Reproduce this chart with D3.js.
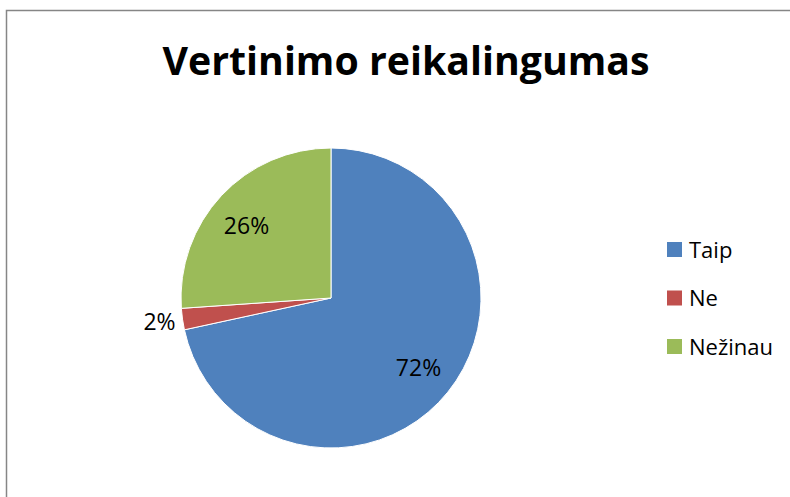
<!DOCTYPE html>
<html><head><meta charset="utf-8">
<script src="https://cdn.jsdelivr.net/npm/d3@7"></script>
<style>body{margin:0;background:#fff}svg{display:block}</style>
</head><body>
<script>
const categories = ["Taip", "Ne", "Nežinau"];
const values = [71.6, 2.3, 26.1];
const labels = ["72%", "2%", "26%"];
const colors = ["#4F81BD", "#C0504D", "#9BBB59"];
const title = "Vertinimo reikalingumas";

const W = 790, H = 497;
const font = "'Open Sans', 'Liberation Sans', sans-serif";
const svg = d3.select("body").append("svg").attr("width", W).attr("height", H);

svg.append("rect").attr("x", 6.5).attr("y", 10.5).attr("width", 900).attr("height", 700)
  .attr("fill", "#fff").attr("stroke", "#868686").attr("stroke-width", 1.5);

const t = svg.append("text").attr("x", 406).attr("y", 75).attr("text-anchor", "middle")
  .attr("font-family", font).attr("font-weight", "bold").attr("font-size", 40)
  .attr("fill", "#000").text(title);
const tw = t.node().getComputedTextLength();
t.attr("font-size", 40 * 487 / tw);

const cx = 331, cy = 298, r = 150;
const data = categories.map((c, i) => ({ c, v: values[i], l: labels[i], col: colors[i] }));
const pie = d3.pie().value(d => d.v).sort(null);
const arc = d3.arc().innerRadius(0).outerRadius(r);
const g = svg.append("g").attr("transform", `translate(${cx},${cy})`);
const arcs = pie(data);
g.selectAll("path").data(arcs).join("path").attr("d", arc)
  .attr("fill", d => d.data.col).attr("stroke", "#fff").attr("stroke-width", 1);

const labelPos = [[87.5, 78], [-171.5, 32], [-84.5, -64]];
g.selectAll("text.lab").data(arcs).join("text").attr("class", "lab")
  .attr("x", (d, i) => labelPos[i][0]).attr("y", (d, i) => labelPos[i][1])
  .attr("text-anchor", "middle")
  .attr("font-family", font).attr("font-size", 23).attr("fill", "#000")
  .text(d => d.data.l);

const leg = svg.append("g").attr("transform", "translate(667,242)");
const li = leg.selectAll("g").data(data).join("g").attr("transform", (d, i) => `translate(0,${i * 48.5})`);
li.append("rect").attr("width", 15).attr("height", 15).attr("fill", d => d.col);
li.append("text").attr("x", 22).attr("y", 15.5)
  .attr("font-family", font).attr("font-size", 22).attr("fill", "#000").text(d => d.c);
</script>
</body></html>
